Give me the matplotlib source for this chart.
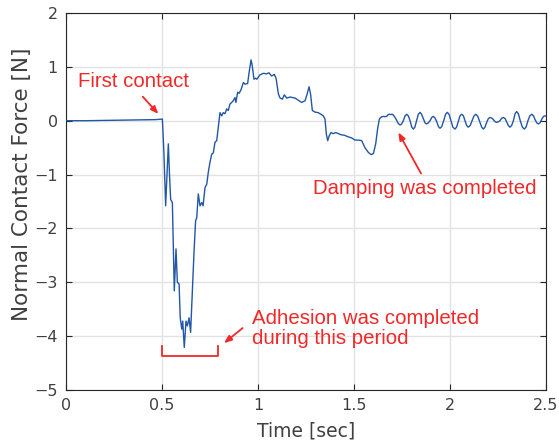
import matplotlib
matplotlib.use("Agg")
import matplotlib.pyplot as plt

# ---- data ----
time_s = [0.0, 0.1, 0.2, 0.3, 0.4, 0.464, 0.502,
          0.510, 0.519, 0.526, 0.533, 0.539, 0.545, 0.554, 0.559, 0.564, 0.573, 0.580, 0.589,
          0.595, 0.603, 0.608, 0.616, 0.625, 0.632, 0.641, 0.649, 0.658, 0.667, 0.675, 0.681,
          0.689, 0.698, 0.707, 0.714, 0.724, 0.733, 0.741, 0.750, 0.759, 0.767, 0.776, 0.785,
          0.793, 0.802, 0.811, 0.819, 0.828, 0.837, 0.845, 0.854, 0.863, 0.871, 0.880, 0.885,
          0.894, 0.902, 0.911, 0.924, 0.932, 0.946, 0.955, 0.964, 0.970, 0.979, 0.988, 0.994,
          1.010, 1.028, 1.045, 1.057, 1.071, 1.085, 1.094, 1.106, 1.115, 1.127, 1.137, 1.150,
          1.167, 1.193, 1.210, 1.227, 1.245, 1.253, 1.266, 1.274, 1.283, 1.297, 1.313, 1.328,
          1.340, 1.349, 1.356, 1.363, 1.371, 1.380, 1.392, 1.405, 1.418, 1.432, 1.450, 1.470,
          1.488, 1.505, 1.523, 1.540, 1.557, 1.575, 1.589, 1.601, 1.613, 1.623, 1.632,
          1.642, 1.653, 1.662, 1.670, 1.677, 1.684, 1.693, 1.701, 1.710, 1.719, 1.730, 1.740,
          1.748, 1.757, 1.766, 1.774, 1.783, 1.792, 1.801, 1.809, 1.817, 1.826, 1.835, 1.844,
          1.852, 1.861, 1.870, 1.878, 1.887, 1.896, 1.905, 1.913, 1.922, 1.931, 1.940, 1.948,
          1.957, 1.967, 1.977, 1.986, 1.995, 2.005, 2.015, 2.026, 2.034, 2.043, 2.052, 2.061,
          2.070, 2.078, 2.087, 2.095, 2.105, 2.115, 2.125, 2.135, 2.145, 2.155, 2.165, 2.174,
          2.182, 2.191, 2.200, 2.208, 2.217, 2.226, 2.235, 2.243, 2.252, 2.260, 2.269, 2.278,
          2.287, 2.295, 2.304, 2.3125, 2.321, 2.330, 2.339, 2.347, 2.356, 2.366, 2.377, 2.387,
          2.396, 2.406, 2.416, 2.426, 2.435, 2.443, 2.452, 2.460, 2.469, 2.478, 2.487, 2.495,
          2.5]
force_n = [0.0, 0.0, 0.005, 0.01, 0.015, 0.02, 0.03,
           -0.6, -1.58, -1.0, -0.43, -1.0, -1.46, -1.52, -2.3, -3.16, -2.38, -3.0, -3.03,
           -3.66, -3.87, -3.72, -4.21, -3.72, -3.81, -3.66, -3.93, -3.16, -2.42, -1.86, -1.80,
           -1.36, -1.58, -1.52, -1.58, -1.24, -1.18, -0.96, -0.77, -0.62, -0.60, -0.40, -0.37,
           -0.12, 0.15, 0.09, 0.15, 0.13, 0.22, 0.19, 0.31, 0.34, 0.37, 0.43, 0.34,
           0.53, 0.51, 0.57, 0.71, 0.68, 0.69, 0.93, 1.13, 1.02, 0.77, 0.79, 0.77,
           0.85, 0.88, 0.87, 0.89, 0.83, 0.86, 0.79, 0.50, 0.42, 0.40, 0.48, 0.42,
           0.44, 0.42, 0.38, 0.34, 0.37, 0.46, 0.63, 0.49, 0.19, 0.16, 0.15, 0.12,
           0.09, 0.03, -0.25, -0.37, -0.28, -0.22, -0.24, -0.22, -0.24, -0.26, -0.27, -0.30,
           -0.32, -0.36, -0.36, -0.37, -0.50, -0.59, -0.63, -0.61, -0.43, -0.15, 0.03,
           0.07, 0.08, 0.075, 0.08, 0.11, 0.12, 0.115, 0.12, 0.08, 0.03, -0.05, -0.08,
           -0.06, 0.0, 0.09, 0.12, 0.09, 0.0, -0.12, -0.155, -0.12, 0.0, 0.12, 0.155,
           0.12, 0.04, -0.04, -0.06, -0.04, 0.0, 0.06, 0.08, 0.05, -0.02, -0.11, -0.14,
           -0.11, 0.0, 0.12, 0.155, 0.12, 0.0, -0.12, -0.155, -0.12, -0.02, 0.09, 0.12,
           0.09, 0.0, -0.09, -0.12, -0.09, 0.0, 0.09, 0.12, 0.08, -0.02, -0.12, -0.155,
           -0.12, -0.03, 0.04, 0.06, 0.05, 0.02, -0.02, -0.03, -0.02, 0.0, 0.045, 0.06,
           0.04, -0.02, -0.09, -0.12, -0.09, 0.0, 0.13, 0.17, 0.13, 0.0, -0.12, -0.155,
           -0.12, 0.0, 0.09, 0.12, 0.09, 0.02, -0.04, -0.06, -0.04, 0.03, 0.08, 0.09,
           0.09]

x_ticks = [0, 0.5, 1, 1.5, 2, 2.5]
x_tick_labels = ["0", "0.5", "1", "1.5", "2", "2.5"]
y_ticks = [-5, -4, -3, -2, -1, 0, 1, 2]
y_tick_labels = ["\u22125", "\u22124", "\u22123", "\u22122", "\u22121", "0", "1", "2"]

x_label = "Time [sec]"
y_label = "Normal Contact Force [N]"
note_first = "First contact"
note_damp = "Damping was completed"
note_adh_1 = "Adhesion was completed"
note_adh_2 = "during this period"

# ---- styling ----
W, H, DPI = 559, 445, 100
LINE_C = "#2256a6"
RED = "#f02828"
AX_C = "#262626"
TXT_C = "#404040"
GRID_C = "#e2e2e2"
TICK_FONT = ["DejaVu Sans"]
NOTE_FONT = ["Liberation Sans", "DejaVu Sans"]
NOTE_SIZE = 14.7

fig = plt.figure(figsize=(W / DPI, H / DPI), dpi=DPI)
ax = fig.add_axes([66 / W, 1 - 390 / H, 480 / W, 377 / H])

ax.plot(time_s, force_n, color=LINE_C, lw=1.0, zorder=3)

ax.set_xlim(0, 2.5)
ax.set_ylim(-5, 2)
ax.set_xticks(x_ticks)
ax.set_xticklabels(x_tick_labels, fontfamily=TICK_FONT, fontsize=11.5, color=TXT_C)
ax.set_yticks(y_ticks)
ax.set_yticklabels(y_tick_labels, fontfamily=TICK_FONT, fontsize=11.5, color=TXT_C)
ax.tick_params(direction="in", length=4, width=0.8, color=AX_C, top=True, right=True, pad=6)
ax.grid(True, color=GRID_C, lw=1.0, zorder=0)
ax.set_axisbelow(True)
for s in ax.spines.values():
    s.set_color(AX_C)
    s.set_linewidth(0.8)

ax.set_xlabel(x_label, fontfamily=TICK_FONT, fontsize=13.5, color=TXT_C)
ax.xaxis.set_label_coords(0.5, -0.083)
ax.set_ylabel(y_label, fontfamily=TICK_FONT, fontsize=15.5, color=TXT_C)
ax.yaxis.set_label_coords(-0.07, 0.545)

# ---- annotations ----
arrow = dict(arrowstyle="-|>,head_length=0.45,head_width=0.18", color=RED, lw=1.3,
             shrinkA=0, shrinkB=0)
ax.text(0.064, 0.62, note_first, color=RED, fontsize=NOTE_SIZE, fontfamily=NOTE_FONT,
        ha="left", va="baseline")
ax.annotate("", xy=(0.481, 0.125), xytext=(0.400, 0.446), arrowprops=arrow)

ax.text(1.288, -1.36, note_damp, color=RED, fontsize=NOTE_SIZE, fontfamily=NOTE_FONT,
        ha="left", va="baseline")
ax.annotate("", xy=(1.731, -0.217), xytext=(1.849, -0.98), arrowprops=arrow)

ax.text(0.967, -3.78, note_adh_1, color=RED, fontsize=NOTE_SIZE, fontfamily=NOTE_FONT,
        ha="left", va="baseline")
ax.text(0.967, -4.14, note_adh_2, color=RED, fontsize=NOTE_SIZE, fontfamily=NOTE_FONT,
        ha="left", va="baseline")
ax.annotate("", xy=(0.823, -4.13), xytext=(0.920, -3.85), arrowprops=arrow)

# bracket marking the adhesion period
ax.plot([0.498, 0.498, 0.793, 0.793], [-4.18, -4.37, -4.37, -4.18], color=RED, lw=1.3,
        zorder=4)

fig.savefig("out.png", dpi=DPI)
